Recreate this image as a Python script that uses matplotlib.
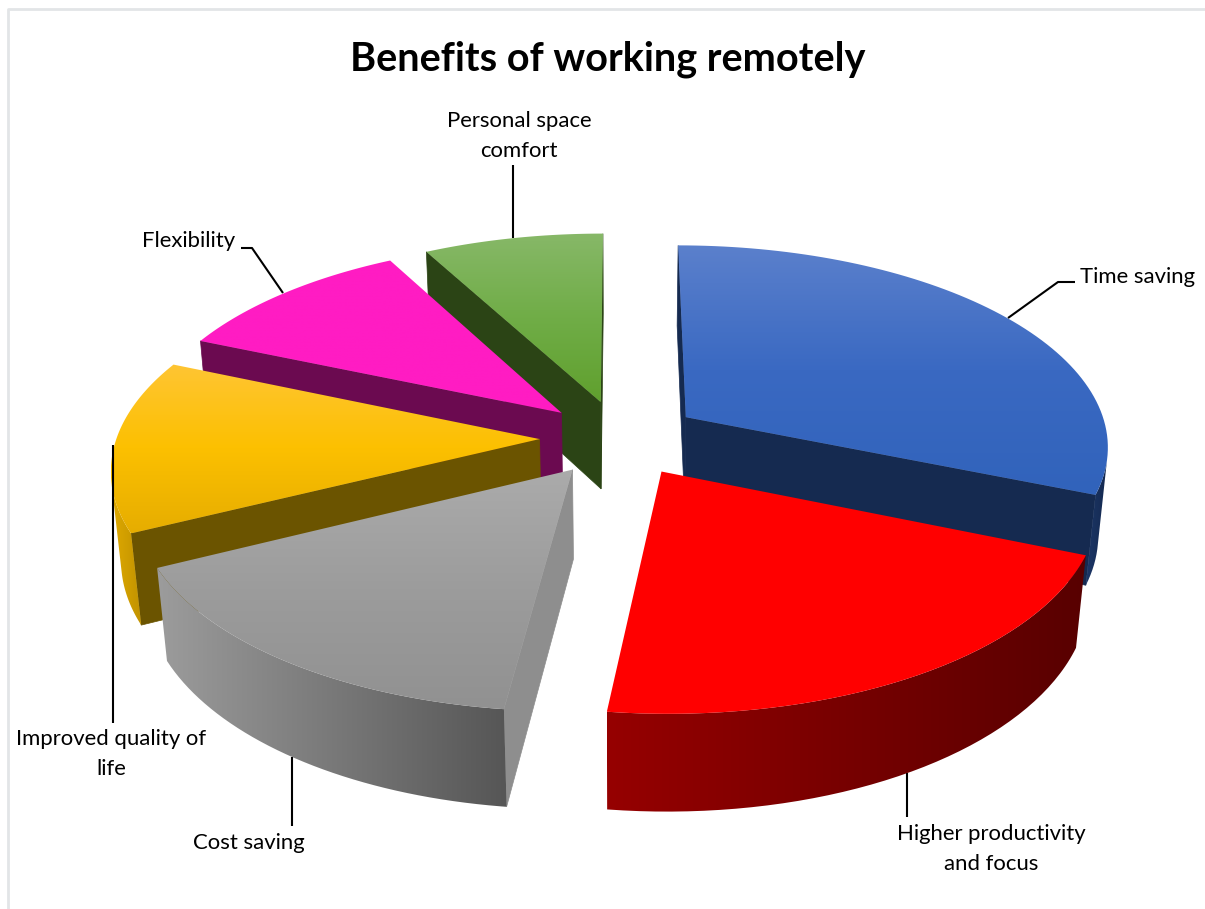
import numpy as np
import matplotlib
matplotlib.use("Agg")
import matplotlib.pyplot as plt
from matplotlib.colors import LinearSegmentedColormap
from matplotlib.patches import PathPatch
from matplotlib.path import Path

# slices run clockwise starting at twelve o'clock
categories = ["Time saving", "Higher productivity\nand focus", "Cost saving",
              "Improved quality of\nlife", "Flexibility", "Personal space\ncomfort"]
shares = [31.2, 20.75, 15.75, 13.7, 10.7, 7.9]

top_colors = [["#5b80cc", "#3a69c2", "#3163bb"], ["#ff0000", "#ff0000"],
              ["#ababab", "#9c9c9c", "#919191"], ["#ffc533", "#fcc000", "#e6ad00"],
              ["#ff1cc3", "#ff1cc3"], ["#87b868", "#70ad47", "#60a02e"]]
rim_colors = [["#1c3768", "#14284e"], ["#960000", "#580000"], ["#9c9c9c", "#565656"],
              ["#e0aa00", "#c29300"], ["#6b0b50", "#6b0b50"], ["#2b4415", "#2b4415"]]
edge_colors = ["#152a50", "#600000", "#8e8e8e", "#6b5400", "#6b0a50", "#2b4415"]

# leader lines and label centres, in pixels
leaders = [[(1008, 318), (1058, 282), (1075, 282)], [(907, 773), (907, 817)],
           [(292, 757), (292, 826)], [(113, 445), (113, 723)],
           [(283, 293), (252, 248), (241, 248)], [(513, 238), (513, 165)]]
label_pos = [(1138, 277), (991, 849), (249, 843), (111, 754), (189, 241), (519, 136)]

CX, CY = 620, 438
RX, RY = 423, 200
TILT = 0.134
DEPTH = 90
SHRINK = 0.02
EXPLODE = 0.19


def project(x, y, low=0.0):
    # flat pie coordinates to pixels, low=1 is the underside
    w = 1 + TILT * y + SHRINK * low
    return CX + RX * x / w, CY - (RY * y - DEPTH * low) / w


def signed_area(pts):
    p = np.array(pts)
    q = np.roll(p, -1, axis=0)
    return np.sum(p[:, 0] * q[:, 1] - q[:, 0] * p[:, 1]) / 2


def gradient_fill(ax, pts, colors, z, vertical=True):
    pts = np.array(pts)
    x0, y0 = pts.min(axis=0)
    x1, y1 = pts.max(axis=0)
    ramp = np.linspace(0, 1, 256)
    ramp = ramp[:, None] if vertical else ramp[None, :]
    cmap = LinearSegmentedColormap.from_list("ramp", colors)
    im = ax.imshow(ramp, cmap=cmap, extent=(x0, x1, y1, y0), origin="upper",
                   aspect="auto", interpolation="bilinear", vmin=0, vmax=1, zorder=z)
    clip = PathPatch(Path(np.vstack([pts, pts[0]])), transform=ax.transData, fc="none", ec="none")
    ax.add_patch(clip)
    im.set_clip_path(clip)


fig = plt.figure(figsize=(12.05, 9.09), dpi=100, facecolor="white")
ax = fig.add_axes([0, 0, 1, 1])
plt.rcParams["font.family"] = ["Lato", "DejaVu Sans"]

total = sum(shares)
sweeps = np.array(shares) / total * 2 * np.pi
starts = np.concatenate([[0], np.cumsum(sweeps)[:-1]])

slices = []
for i in range(len(shares)):
    mid = starts[i] + sweeps[i] / 2
    ox, oy = EXPLODE * np.sin(mid), EXPLODE * np.cos(mid)
    ang = np.linspace(starts[i], starts[i] + sweeps[i], 80)
    slices.append((project(ox, oy)[1], i, ox, oy, ang))

# far slices first so the near ones paint over them
z = 2
for _, i, ox, oy, ang in sorted(slices, key=lambda s: s[0]):
    xs = ox + np.sin(ang)
    ys = oy + np.cos(ang)
    rim = [project(a, b) for a, b in zip(xs, ys)]
    rim_low = [project(a, b, 1) for a, b in zip(xs, ys)]
    apex = project(ox, oy)
    apex_low = project(ox, oy, 1)

    # flat side walls
    for quad in ([apex, rim[0], rim_low[0], apex_low], [rim[-1], apex, apex_low, rim_low[-1]]):
        if signed_area(quad) < 0:
            ax.fill(*zip(*quad), color=edge_colors[i], lw=0.5, zorder=z)
            z += 1

    # curved wall, only the part turned towards the viewer
    front = [signed_area([rim[k], rim[k + 1], rim_low[k + 1], rim_low[k]]) < 0 for k in range(len(rim) - 1)]
    idx = [k for k, f in enumerate(front) if f]
    if idx:
        a, b = idx[0], idx[-1] + 1
        gradient_fill(ax, rim[a:b + 1] + rim_low[a:b + 1][::-1], rim_colors[i], z, vertical=False)
        z += 1

    gradient_fill(ax, [apex] + rim, top_colors[i], z, vertical=True)
    z += 1

for path in leaders:
    ax.plot(*zip(*path), color="black", lw=1.5, solid_capstyle="butt", zorder=z)

for name, (tx, ty) in zip(categories, label_pos):
    ax.text(tx, ty, name, ha="center", va="center", fontsize=15.9, color="black",
            linespacing=1.68, zorder=z + 1)

ax.text(608, 59, "Benefits of working remotely", ha="center", va="center",
        fontsize=28.5, fontweight="bold", color="black", zorder=z + 1)

# chart frame, only its top and left sides fall inside the canvas
ax.plot([7.5, 7.5, 1205], [909, 8.5, 8.5], color="#e2e5e7", lw=2, zorder=1)

ax.set_xlim(0, 1205)
ax.set_ylim(909, 0)
ax.axis("off")
fig.savefig("out.png", dpi=100)
